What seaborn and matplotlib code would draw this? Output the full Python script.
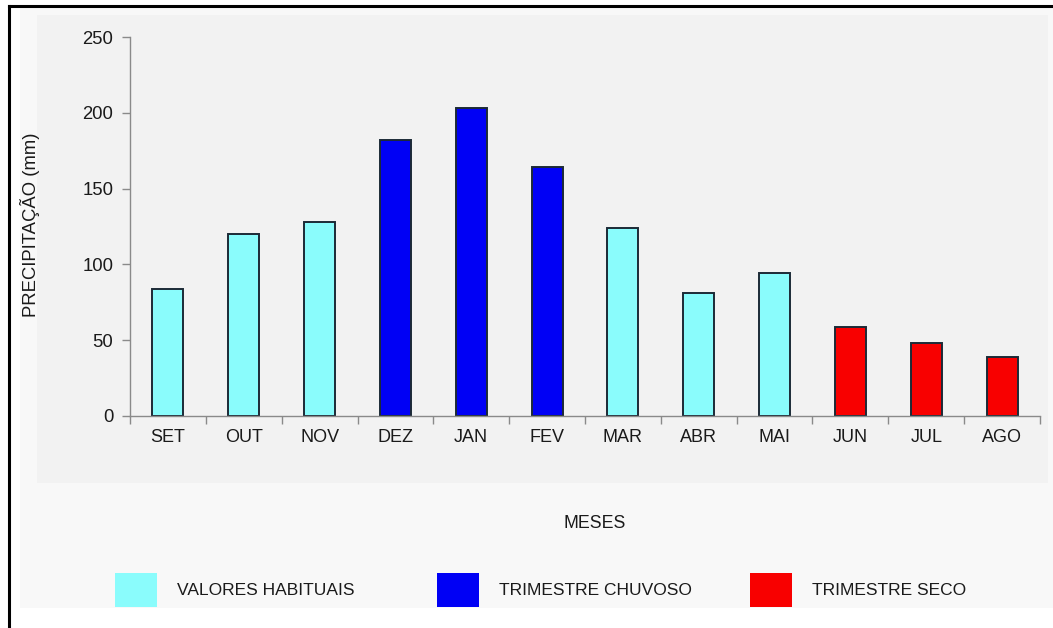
import matplotlib
matplotlib.use("Agg")
import matplotlib.pyplot as plt
from matplotlib.patches import Rectangle, Patch
from matplotlib.lines import Line2D
import seaborn as sns
import pandas as pd

# Monthly rainfall (mm), hydrological year Sep-Aug
months = ["SET", "OUT", "NOV", "DEZ", "JAN", "FEV", "MAR", "ABR", "MAI", "JUN", "JUL", "AGO"]
rain_mm = [84, 120, 128, 182, 203, 164, 124, 81, 94, 59, 48, 39]
groups = ["VALORES HABITUAIS", "VALORES HABITUAIS", "VALORES HABITUAIS",
          "TRIMESTRE CHUVOSO", "TRIMESTRE CHUVOSO", "TRIMESTRE CHUVOSO",
          "VALORES HABITUAIS", "VALORES HABITUAIS", "VALORES HABITUAIS",
          "TRIMESTRE SECO", "TRIMESTRE SECO", "TRIMESTRE SECO"]
group_order = ["VALORES HABITUAIS", "TRIMESTRE CHUVOSO", "TRIMESTRE SECO"]
group_colors = {"VALORES HABITUAIS": "#8AFCFC",
                "TRIMESTRE CHUVOSO": "#0000F5",
                "TRIMESTRE SECO": "#F80000"}
y_ticks = [0, 50, 100, 150, 200, 250]

df = pd.DataFrame({"mes": months, "chuva": rain_mm, "grupo": groups})

sns.set_theme(style="white")
plt.rcParams["font.family"] = ["Liberation Sans", "DejaVu Sans"]

W, H = 1053, 628
fig = plt.figure(figsize=(W / 100, H / 100), dpi=100, facecolor="white")

def fx(px):
    return px / W

def fy(py):
    return 1 - py / H

# background panels
fig.add_artist(Rectangle((fx(20), fy(608)), fx(1053) - fx(20), fy(8) - fy(608),
                         transform=fig.transFigure, facecolor="#f8f8f8",
                         edgecolor="none", zorder=0))
fig.add_artist(Rectangle((fx(37), fy(483)), fx(1048) - fx(37), fy(15) - fy(483),
                         transform=fig.transFigure, facecolor="#f2f2f2",
                         edgecolor="none", zorder=0))
# frame lines (left and top)
fig.add_artist(Line2D([fx(8.5), fx(8.5)], [0, fy(5.5)], transform=fig.transFigure,
                      color="black", lw=2.2, solid_capstyle="projecting"))
fig.add_artist(Line2D([fx(8.5), 1], [fy(5.5), fy(5.5)], transform=fig.transFigure,
                      color="black", lw=2.2, solid_capstyle="projecting"))

ax = fig.add_axes([fx(130), fy(416), fx(1040) - fx(130), fy(37) - fy(416)])
ax.set_facecolor("#f2f2f2")

sns.barplot(data=df, x="mes", y="chuva", hue="grupo", hue_order=group_order,
            palette=group_colors, saturation=1, dodge=False, width=0.41,
            order=months, edgecolor="#1c2a36", linewidth=1.4, legend=False, ax=ax)

ax.set_xlim(-0.5, len(months) - 0.5)
ax.set_ylim(0, 250)
ax.set_yticks(y_ticks)
ax.set_yticklabels([str(v) for v in y_ticks])

# x ticks sit on the category boundaries, labels at the centres
ax.set_xticks([i - 0.5 for i in range(len(months) + 1)])
ax.set_xticklabels([])
ax.set_xticks(range(len(months)), minor=True)
ax.set_xticklabels(months, minor=True)
ax.tick_params(axis="x", which="major", direction="out", length=6, width=1,
               color="#8a8a8a", bottom=True)
ax.tick_params(axis="x", which="minor", length=0, pad=9, labelsize=13,
               labelcolor="#1a1a1a")
ax.tick_params(axis="y", direction="out", length=6, width=1, color="#8a8a8a",
               left=True, pad=6, labelsize=13.3, labelcolor="#1a1a1a")

for side in ["top", "right"]:
    ax.spines[side].set_visible(False)
for side in ["left", "bottom"]:
    ax.spines[side].set_color("#8a8a8a")
    ax.spines[side].set_linewidth(1.0)

ax.set_xlabel("")
ax.set_ylabel("")
fig.text(fx(30), fy(225), "PRECIPITAÇÃO (mm)", rotation=90, ha="center",
         va="center", fontsize=13.3, color="#1a1a1a")
fig.text(fx(595), fy(523), "MESES", ha="center", va="center", fontsize=12.8,
         color="#1a1a1a")

# legend: one entry per group, evenly spaced along the bottom
legend_x = [115, 437, 750]
for gx, g in zip(legend_x, group_order):
    leg = fig.legend(handles=[Patch(facecolor=group_colors[g], edgecolor="none")],
                     labels=[g], loc="center left",
                     bbox_to_anchor=(fx(gx), fy(590)), frameon=False,
                     handlelength=2.4, handleheight=2.7, handletextpad=1.15,
                     borderpad=0, borderaxespad=0,
                     prop={"size": 12.5})
    for t in leg.get_texts():
        t.set_color("#1a1a1a")

fig.savefig("out.png", dpi=100, facecolor="white")
